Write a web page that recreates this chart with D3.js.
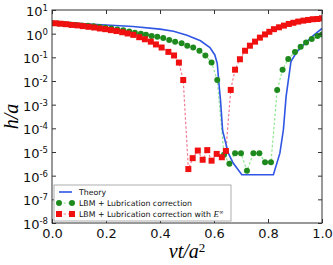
<!DOCTYPE html>
<html>
<head>
<meta charset="utf-8">
<script src="https://cdn.jsdelivr.net/npm/d3@7"></script>
<style>
  body { margin: 0; background: #fff; }
  text { font-family: "DejaVu Sans", sans-serif; }
</style>
</head>
<body>
<svg id="chart" width="333" height="265"></svg>
<script>
// Theory curve
const theoryX = [0, 0.1, 0.2, 0.3, 0.4, 0.45, 0.5, 0.55, 0.585, 0.603, 0.612, 0.619, 0.624, 0.632,
  0.653, 0.671, 0.703, 0.82, 0.844, 0.857, 0.867, 0.885, 0.905, 0.925, 0.962, 1.0];
const theoryH = [2.95, 2.7, 2.34, 2.0, 1.55, 1.26, 0.85, 0.5, 0.26, 0.126, 0.056, 6.3e-3, 1.6e-3, 7.9e-5,
  8.9e-6, 3.4e-6, 1.1e-6, 1.1e-6, 8.9e-6, 8.7e-5, 2.2e-3, 0.066, 0.16, 0.28, 0.74, 1.66];

// LBM + Lubrication correction
const lubX = [0.0, 0.023, 0.045, 0.067, 0.089, 0.111, 0.133, 0.154, 0.176, 0.198, 0.220, 0.242, 0.264,
  0.286, 0.307, 0.329, 0.348, 0.369, 0.390, 0.412, 0.434, 0.456, 0.480, 0.501, 0.523, 0.546, 0.568,
  0.591, 0.612, 0.637, 0.657, 0.678, 0.700, 0.722, 0.746, 0.768, 0.789, 0.811, 0.834, 0.854, 0.875,
  0.900, 0.921, 0.941, 0.962, 0.983, 1.0];
const lubH = [2.82, 2.69, 2.57, 2.45, 2.34, 2.24, 2.14, 2.04, 1.91, 1.78, 1.66, 1.51, 1.38,
  1.23, 1.1, 0.98, 0.89, 0.79, 0.74, 0.65, 0.54, 0.46, 0.39, 0.31, 0.26, 0.19, 0.12,
  0.06, 0.011, 7.6e-6, 3.2e-6, 8.9e-6, 8.9e-6, 1.6e-6, 8.9e-6, 8.9e-6, 3.7e-6, 3.7e-6, 4.2e-3, 0.03, 0.085,
  0.17, 0.28, 0.42, 0.6, 0.79, 0.93];

// LBM + Lubrication correction with E^inf
const lubEX = [0.011, 0.031, 0.052, 0.073, 0.094, 0.114, 0.135, 0.156, 0.177, 0.197, 0.218, 0.239,
  0.260, 0.280, 0.301, 0.323, 0.344, 0.366, 0.385, 0.406, 0.431, 0.452, 0.470, 0.486, 0.505, 0.521,
  0.540, 0.558, 0.575, 0.591, 0.610, 0.629, 0.644, 0.662, 0.678, 0.696, 0.715, 0.733, 0.752, 0.770,
  0.789, 0.805, 0.822, 0.841, 0.859, 0.877, 0.894, 0.912, 0.931, 0.949, 0.966, 0.983, 1.0];
const lubEH = [2.75, 2.63, 2.51, 2.34, 2.24, 2.09, 1.95, 1.82, 1.66, 1.55, 1.41, 1.29,
  1.15, 1.02, 0.89, 0.71, 0.58, 0.46, 0.35, 0.26, 0.17, 0.12, 0.06, 0.011, 1.9e-6, 5.5e-6,
  1.15e-5, 4.7e-6, 1.2e-5, 4.3e-6, 8.3e-6, 6e-6, 1.1e-5, 4.2e-3, 0.03, 0.083, 0.19, 0.31, 0.46, 0.68,
  0.93, 1.2, 1.55, 1.86, 2.19, 2.57, 2.88, 3.24, 3.55, 3.8, 4.07, 4.17, 4.47];

const xTicks = [0, 0.2, 0.4, 0.6, 0.8, 1.0];
const yExponents = [1, 0, -1, -2, -3, -4, -5, -6, -7, -8];
const legendLabels = ["Theory", "LBM + Lubrication correction", "LBM + Lubrication correction with "];

const margin = { top: 10, right: 11, bottom: 42, left: 52 };
const width = 333, height = 265;
const svg = d3.select("#chart");

const x = d3.scaleLinear().domain([0, 1]).range([margin.left, width - margin.right]);
const y = d3.scaleLog().domain([1e-8, 10]).range([height - margin.bottom, margin.top]);

const blue = "#2f55e4", green = "#1e8a1e", red = "#f01010";
const greenDash = "#8fe88f", redDash = "#f07a95";

svg.append("defs").append("clipPath").attr("id", "plotClip")
  .append("rect")
  .attr("x", x(0)).attr("y", y(10))
  .attr("width", x(1) - x(0)).attr("height", y(1e-8) - y(10));

const toPts = (xs, hs) => xs.map((v, i) => [v, hs[i]]);
const theory = toPts(theoryX, theoryH);
const lub = toPts(lubX, lubH);
const lubE = toPts(lubEX, lubEH);

const line = d3.line().x(d => x(d[0])).y(d => y(d[1]));
const plot = svg.append("g").attr("clip-path", "url(#plotClip)");

// dashed connectors
plot.append("path").datum(lub).attr("d", line)
  .attr("fill", "none").attr("stroke", greenDash).attr("stroke-width", 1.2)
  .attr("stroke-dasharray", "2.5,2");
plot.append("path").datum(lubE).attr("d", line)
  .attr("fill", "none").attr("stroke", redDash).attr("stroke-width", 1.2)
  .attr("stroke-dasharray", "2.5,2");

// theory
plot.append("path").datum(theory).attr("d", line)
  .attr("fill", "none").attr("stroke", blue).attr("stroke-width", 1.6);

// markers
plot.selectAll("circle.lub").data(lub).join("circle")
  .attr("class", "lub")
  .attr("cx", d => x(d[0])).attr("cy", d => y(d[1]))
  .attr("r", 3).attr("fill", green);

plot.selectAll("rect.lubE").data(lubE).join("rect")
  .attr("class", "lubE")
  .attr("x", d => x(d[0]) - 3).attr("y", d => y(d[1]) - 3)
  .attr("width", 6).attr("height", 6).attr("fill", red);

// axes
const axisColor = "#333";
function styleAxis(g) {
  g.select(".domain").remove();
  g.selectAll("line").attr("stroke", axisColor);
  g.selectAll("text").style("font-size", "13px").attr("fill", "#111");
}

svg.append("g")
  .attr("transform", `translate(0,${y(1e-8)})`)
  .call(d3.axisBottom(x).tickValues(xTicks).tickSize(-4).tickPadding(6).tickFormat(d3.format(".1f")))
  .call(styleAxis);
svg.append("g")
  .attr("transform", `translate(0,${y(10)})`)
  .call(d3.axisTop(x).tickValues(xTicks).tickSize(-4).tickFormat(""))
  .call(styleAxis);

const yTickVals = yExponents.map(e => Math.pow(10, e));
const yAxisG = svg.append("g")
  .attr("transform", `translate(${x(0)},0)`)
  .call(d3.axisLeft(y).tickValues(yTickVals).tickSize(-4).tickPadding(4).tickFormat(""))
  .call(styleAxis);
svg.append("g")
  .attr("transform", `translate(${x(1)},0)`)
  .call(d3.axisRight(y).tickValues(yTickVals).tickSize(-4).tickFormat(""))
  .call(styleAxis);

yAxisG.selectAll(".tick").each(function (d) {
  const e = Math.round(Math.log10(d));
  const t = d3.select(this).select("text").text(null)
    .attr("x", -4).attr("dy", "0.42em").attr("text-anchor", "end");
  t.append("tspan").text("10");
  t.append("tspan").attr("dy", "-0.6em").style("font-size", "8.5px").text(e);
});

svg.append("rect")
  .attr("x", x(0)).attr("y", y(10))
  .attr("width", x(1) - x(0)).attr("height", y(1e-8) - y(10))
  .attr("fill", "none").attr("stroke", axisColor).attr("stroke-width", 1);

// axis labels
const xl = svg.append("text")
  .attr("x", (x(0) + x(1)) / 2).attr("y", 258)
  .attr("text-anchor", "middle")
  .style("font-family", "'Liberation Serif', serif").style("font-style", "italic")
  .style("font-size", "20px");
xl.append("tspan").text("νt/a");
xl.append("tspan").attr("dy", "-0.45em").style("font-size", "13px").style("font-style", "normal").text("2");

svg.append("text")
  .attr("transform", `translate(18,${(y(10) + y(1e-8)) / 2}) rotate(-90)`)
  .attr("text-anchor", "middle")
  .style("font-family", "'Liberation Serif', serif").style("font-style", "italic")
  .style("font-size", "20px")
  .text("h/a");

// legend
const lg = svg.append("g");
lg.append("rect").attr("x", 54).attr("y", 185).attr("width", 177).attr("height", 36)
  .attr("fill", "#fff").attr("stroke", "#999").attr("stroke-width", 0.8);
const rowY = [192, 203, 214];
const lx0 = 59, lx1 = 72;

lg.append("line").attr("x1", lx0).attr("x2", lx1).attr("y1", rowY[0]).attr("y2", rowY[0])
  .attr("stroke", blue).attr("stroke-width", 1.6);

lg.append("line").attr("x1", lx0).attr("x2", lx1).attr("y1", rowY[1]).attr("y2", rowY[1])
  .attr("stroke", greenDash).attr("stroke-width", 1.2).attr("stroke-dasharray", "2.5,2");
lg.selectAll("circle.lg").data([lx0, lx1]).join("circle").attr("class", "lg")
  .attr("cx", d => d).attr("cy", rowY[1]).attr("r", 3).attr("fill", green);

lg.append("line").attr("x1", lx0).attr("x2", lx1).attr("y1", rowY[2]).attr("y2", rowY[2])
  .attr("stroke", redDash).attr("stroke-width", 1.2).attr("stroke-dasharray", "2.5,2");
lg.selectAll("rect.lg").data([lx0, lx1]).join("rect").attr("class", "lg")
  .attr("x", d => d - 3).attr("y", rowY[2] - 3).attr("width", 6).attr("height", 6).attr("fill", red);

legendLabels.forEach((s, i) => {
  const t = lg.append("text").attr("x", 79).attr("y", rowY[i]).attr("dy", "0.35em")
    .style("font-size", "7.8px").attr("fill", "#111").text(s);
  if (i === 2) {
    t.append("tspan").style("font-family", "'Liberation Serif', serif")
      .style("font-style", "italic").style("font-size", "8.8px").text("E");
    t.append("tspan").attr("dy", "-0.45em").style("font-size", "5.5px").text("∞");
  }
});
</script>
</body>
</html>
